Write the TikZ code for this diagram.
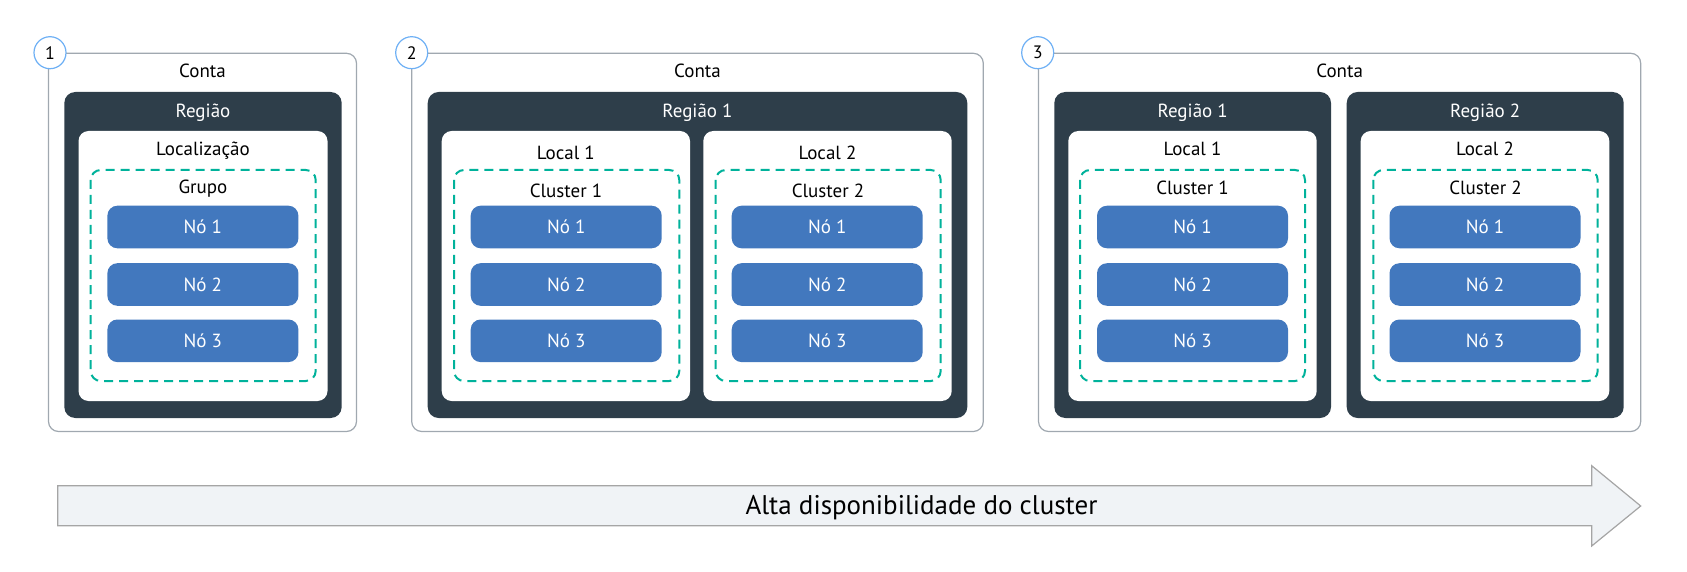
\documentclass[tikz,border=0pt]{standalone}
\usepackage{fontspec}
\setmainfont{PT Sans}
\definecolor{contagray}{RGB}{160,168,176}
\definecolor{regiaodark}{RGB}{46,62,74}
\definecolor{grupoteal}{RGB}{0,178,155}
\definecolor{noblue}{RGB}{66,120,190}
\definecolor{numblue}{RGB}{110,176,245}
\definecolor{setafill}{RGB}{240,243,246}
\definecolor{setadraw}{RGB}{165,165,165}
\begin{document}
\begin{tikzpicture}[x=1pt,y=-1pt,
	conta/.style={draw=contagray, line width=1.2pt, rounded corners=10pt},
	regiao/.style={fill=regiaodark, rounded corners=11pt},
	localbox/.style={fill=white, rounded corners=10pt},
	grupo/.style={draw=grupoteal, line width=2pt, dash pattern=on 9pt off 6pt, rounded corners=10pt},
	no/.style={fill=noblue, text=white, rounded corners=10pt, minimum width=191pt,
		minimum height=42.6pt, inner sep=0pt, font=\fontsize{19}{20}\selectfont},
	rotulo/.style={anchor=base, inner sep=0pt, font=\fontsize{19}{20}\selectfont},
	numero/.style={circle, draw=numblue, fill=white, line width=1.2pt, minimum size=32pt,
		inner sep=0pt, font=\fontsize{18}{20}\selectfont}]
	\useasboundingbox (0,0) rectangle (1687,572);
	% Conta 1
	\draw[conta] (48.5,53.3) rectangle (356.5,431.5);
	\node[numero] (num1) at (50,52.7) {1};
	\node[rotulo] (conta1) at (202.5,77.7) {Conta};
	\fill[regiao] (64.3,92) rectangle (341.7,418);
	\node[rotulo, text=white] (reg1) at (203,117.3) {Região};
	\fill[localbox] (78.5,131) rectangle (327.5,401);
	\node[rotulo] (loc1) at (203,156) {Localização};
	\draw[grupo] (90.7,170) rectangle (315.7,381);
	\node[rotulo] (grp1) at (203,194) {Grupo};
	% Conta 2
	\draw[conta] (411.7,53.3) rectangle (983.3,431.5);
	\node[numero] (num2) at (411.7,52.7) {2};
	\node[rotulo] (conta2) at (697.5,77.7) {Conta};
	\fill[regiao] (427.7,92) rectangle (967.3,418);
	\node[rotulo, text=white] (reg2) at (697.5,117.3) {Região 1};
	\fill[localbox] (441.7,131) rectangle (690,401);
	\fill[localbox] (703.3,131) rectangle (951.7,401);
	\node[rotulo] (loc2a) at (565.9,159.3) {Local 1};
	\node[rotulo] (loc2b) at (827.5,159.3) {Local 2};
	\draw[grupo] (454,170) rectangle (679.3,381);
	\draw[grupo] (715.7,170) rectangle (940.7,381);
	\node[rotulo] (clu2a) at (566,197.7) {Cluster 1};
	\node[rotulo] (clu2b) at (828,197.7) {Cluster 2};
	% Conta 3
	\draw[conta] (1038.5,53.3) rectangle (1640.7,431.5);
	\node[numero] (num3) at (1037.7,52.7) {3};
	\node[rotulo] (conta3) at (1339.6,77.7) {Conta};
	\fill[regiao] (1054.3,92) rectangle (1331,418);
	\fill[regiao] (1346.7,92) rectangle (1623.7,418);
	\node[rotulo, text=white] (reg3a) at (1192.7,117.3) {Região 1};
	\node[rotulo, text=white] (reg3b) at (1485.2,117.3) {Região 2};
	\fill[localbox] (1068.3,131) rectangle (1316.7,401);
	\fill[localbox] (1360.7,131) rectangle (1609.3,401);
	\node[rotulo] (loc3a) at (1192.5,156) {Local 1};
	\node[rotulo] (loc3b) at (1485,156) {Local 2};
	\draw[grupo] (1080,170) rectangle (1305,381);
	\draw[grupo] (1373.3,170) rectangle (1597.7,381);
	\node[rotulo] (clu3a) at (1192.5,194.3) {Cluster 1};
	\node[rotulo] (clu3b) at (1485.5,194.3) {Cluster 2};
	% Nos
	\foreach \cx/\pre in {202.9/a, 566.2/b, 827.2/c, 1192.5/d, 1485/e} {
		\foreach \i/\cy in {1/227, 2/284.5, 3/340.8}
			\node[no] (no\pre\i) at (\cx,\cy) {Nó \i};
	}
	% Seta
	\draw[fill=setafill, draw=setadraw, line width=1.2pt] (57.7,485.7) -- (1591.7,485.7)
		-- (1591.7,465.7) -- (1640.7,506) -- (1591.7,546) -- (1591.7,525.7)
		-- (57.7,525.7) -- cycle;
	\node[rotulo, font=\fontsize{27}{30}\selectfont] (seta) at (921.5,514) {Alta disponibilidade do cluster};
\end{tikzpicture}
\end{document}
